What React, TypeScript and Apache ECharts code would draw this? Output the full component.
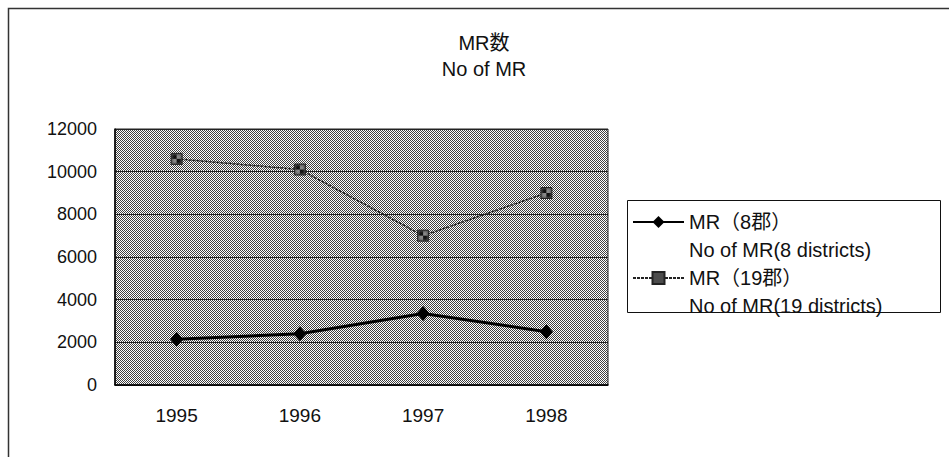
import React, { useEffect, useRef } from "react";
import * as echarts from "echarts";

const years = ["1995", "1996", "1997", "1998"];
const mr8 = [2150, 2400, 3350, 2500];
const mr19 = [10600, 10100, 7000, 9000];
const yTicks = { min: 0, max: 12000, interval: 2000 };
const seriesNames = [
  "MR（8郡）\nNo of MR(8 districts)",
  "MR（19郡）\nNo of MR(19 districts)",
];
const titleText = "MR数\nNo of MR";

const FONT = "'Liberation Sans', 'Noto Sans CJK JP', sans-serif";

function makePattern(dark: string, light: string) {
  const c = document.createElement("canvas");
  c.width = 2;
  c.height = 2;
  const ctx = c.getContext("2d")!;
  ctx.fillStyle = light;
  ctx.fillRect(0, 0, 2, 2);
  ctx.fillStyle = dark;
  ctx.fillRect(0, 0, 1, 1);
  ctx.fillRect(1, 1, 1, 1);
  return {
    image: c.toDataURL(),
    repeat: "repeat",
    imageWidth: 2,
    imageHeight: 2,
  };
}

export default function App() {
  const ref = useRef<HTMLDivElement>(null);
  useEffect(() => {
    if (!ref.current) return;
    const chart = echarts.init(ref.current, undefined, { renderer: "svg" });
    const bgPattern = makePattern("#404040", "#ffffff");
    const markerPattern = makePattern("#111111", "#888888");
    chart.setOption({
      animation: false,
      backgroundColor: "#ffffff",
      title: {
        text: titleText,
        left: 479,
        top: 25,
        textAlign: "center",
        textStyle: {
          fontFamily: FONT,
          fontSize: 20,
          fontWeight: "normal",
          lineHeight: 26,
          color: "#111",
        },
      },
      legend: {
        orient: "vertical",
        left: 632,
        top: 180,
        padding: 0,
        itemGap: -28,
        itemWidth: 51,
        itemHeight: 15,
        data: seriesNames,
        selectedMode: false,
        formatter: (name: string) => "\n" + name,
        textStyle: {
          fontFamily: FONT,
          fontSize: 20,
          lineHeight: 28,
          color: "#111",
        },
      },
      grid: {
        left: 115,
        right: 341,
        top: 129,
        bottom: 72,
        show: true,
        backgroundColor: bgPattern,
        borderColor: "#222",
        borderWidth: 1,
      },
      xAxis: {
        type: "category",
        data: years,
        boundaryGap: true,
        axisLine: { show: true, lineStyle: { color: "#000", width: 1.5 } },
        axisTick: { show: false },
        axisLabel: {
          margin: 21,
          fontFamily: FONT,
          fontSize: 19,
          color: "#111",
        },
        splitLine: { show: false },
      },
      yAxis: {
        type: "value",
        min: yTicks.min,
        max: yTicks.max,
        interval: yTicks.interval,
        axisLine: { show: true, lineStyle: { color: "#000", width: 1.5 } },
        axisTick: { show: false },
        axisLabel: {
          margin: 18,
          fontFamily: FONT,
          fontSize: 18,
          color: "#111",
          formatter: (v: number) => String(v),
        },
        splitLine: { show: true, lineStyle: { color: "#222", width: 1 } },
      },
      series: [
        {
          name: seriesNames[0],
          type: "line",
          data: mr8,
          symbol: "diamond",
          symbolSize: [13, 15],
          lineStyle: { color: "#000", width: 3 },
          itemStyle: { color: "#000" },
        },
        {
          name: seriesNames[1],
          type: "line",
          data: mr19,
          symbol: "rect",
          symbolSize: 11,
          lineStyle: { color: "#222", width: 1.5, type: [3, 1] },
          itemStyle: { color: markerPattern, borderColor: "#222", borderWidth: 1 },
        },
      ],
      graphic: [
        {
          type: "polyline",
          shape: { points: [[8.5, 457], [8.5, 8.5], [949, 8.5]] },
          style: { stroke: "#333", lineWidth: 1.5, fill: "none" },
          silent: true,
        },
        {
          type: "rect",
          shape: { x: 627.5, y: 200.5, width: 313, height: 112 },
          style: { stroke: "#111", lineWidth: 1, fill: "none" },
          silent: true,
          z: 10,
        },
      ],
    });
    return () => chart.dispose();
  }, []);
  return (
    <div
      ref={ref}
      style={{ position: "fixed", left: 0, top: 0, width: 949, height: 457 }}
    />
  );
}
